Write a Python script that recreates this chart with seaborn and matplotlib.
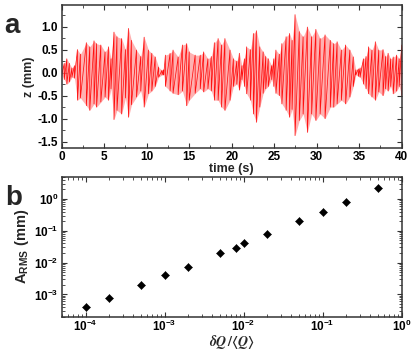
import numpy as np
import seaborn as sns
import matplotlib
import matplotlib.pyplot as plt
from matplotlib.ticker import MultipleLocator, LogLocator, NullFormatter

# panel a: peak envelope of z(t)
t_s = [0.0, 0.3, 0.6, 0.9, 1.2, 1.5, 1.85, 2.2, 2.9, 3.3, 3.8, 4.1, 4.6, 5.1,
       5.5, 5.8, 6.15, 6.5, 7.05, 7.5, 7.85, 8.2, 8.8, 9.3, 9.7, 10.2, 10.6,
       11.0, 11.4, 11.8, 12.0, 12.2, 12.75, 13.1, 13.7, 14.2, 14.7, 15.0,
       15.7, 16.3, 16.7, 17.2, 17.6, 17.96, 18.4, 18.8, 19.2, 19.8, 20.2,
       20.6, 20.9, 21.2, 21.5, 21.76, 22.2, 22.55, 22.9, 23.3, 23.7, 24.0,
       24.3, 24.7, 24.95, 25.2, 25.6, 25.9, 26.4, 26.8, 27.1, 27.45, 27.95,
       28.4, 28.9, 29.4, 29.9, 30.4, 30.98, 31.6, 32.0, 32.4, 32.9, 33.4,
       33.9, 34.3, 34.6, 34.9, 35.1, 35.5, 35.8, 36.1, 36.5, 36.9, 37.3,
       37.8, 38.1, 38.4, 38.7, 39.0, 39.4, 39.7, 40.0]
z_up = [0.05, 0.2, 0.3, 0.2, 0.1, 0.15, 0.5, 0.4, 0.65, 0.56, 0.69, 0.63, 0.6,
        0.45, 0.56, 0.3, 0.88, 0.78, 0.74, 0.5, 0.96, 0.7, 0.49, 0.35, 0.77,
        0.49, 0.42, 0.34, 0.12, 0.05, 0.06, 0.38, 0.42, 0.49, 0.34, 0.6, 0.63,
        0.45, 0.38, 0.38, 0.45, 0.3, 0.35, 0.65, 0.74, 0.6, 0.74, 0.49, 0.3,
        0.25, 0.42, 0.15, 0.3, 0.56, 0.5, 0.85, 0.91, 0.56, 0.45, 0.35, 0.3,
        0.15, 0.3, 0.49, 0.4, 0.63, 0.78, 0.85, 0.7, 1.26, 0.89, 0.78, 0.99,
        0.78, 0.94, 0.74, 0.82, 0.7, 0.63, 0.67, 0.49, 0.6, 0.49, 0.34, 0.06,
        0.08, 0.1, 0.3, 0.35, 0.56, 0.49, 0.67, 0.49, 0.5, 0.35, 0.42, 0.3,
        0.34, 0.38, 0.3, 0.6]
z_low = [-0.05, -0.15, -0.25, -0.2, -0.1, -0.12, -0.6, -0.55, -0.72, -0.82,
         -0.68, -0.75, -0.64, -0.53, -0.6, -0.35, -1.02, -0.82, -0.9, -0.55,
         -0.97, -0.7, -0.53, -0.4, -0.75, -0.46, -0.4, -0.3, -0.1, -0.05,
         -0.05, -0.3, -0.4, -0.45, -0.48, -0.4, -0.72, -0.6, -0.45, -0.35,
         -0.42, -0.35, -0.4, -0.6, -0.6, -0.75, -0.82, -0.6, -0.3, -0.25,
         -0.38, -0.15, -0.3, -0.46, -0.6, -0.9, -1.08, -0.75, -0.45, -0.35,
         -0.3, -0.15, -0.3, -0.45, -0.5, -0.68, -0.82, -0.97, -0.8, -1.37,
         -1.04, -0.9, -1.3, -0.9, -1.04, -0.9, -1.0, -0.75, -0.75, -0.68,
         -0.6, -0.68, -0.53, -0.3, -0.05, -0.08, -0.1, -0.25, -0.35, -0.46,
         -0.53, -0.6, -0.42, -0.5, -0.35, -0.4, -0.3, -0.46, -0.4, -0.3, -0.5]

# panel b
dq = [1e-4, 2e-4, 5e-4, 1e-3, 2e-3, 5e-3, 8e-3, 1e-2, 2e-2, 5e-2, 1e-1, 2e-1,
      5e-1]
a_rms = [4.1e-4, 7.9e-4, 2.0e-3, 4.0e-3, 7.5e-3, 0.0197, 0.0295, 0.040, 0.080,
         0.204, 0.40, 0.79, 2.18]

sns.set_theme(style='ticks')
plt.rcParams['font.family'] = ['Liberation Sans', 'DejaVu Sans']
plt.rcParams['font.weight'] = 'bold'
plt.rcParams['axes.labelweight'] = 'bold'
plt.rcParams['mathtext.fontset'] = 'stix'
plt.rcParams['axes.unicode_minus'] = False
plt.rcParams['xtick.direction'] = 'in'
plt.rcParams['ytick.direction'] = 'in'
plt.rcParams['xtick.top'] = True
plt.rcParams['ytick.right'] = True

fig = plt.figure(figsize=(4.15, 3.53), dpi=100)
ax1 = fig.add_axes([0.1487, 0.5807, 0.8193, 0.4051])
ax2 = fig.add_axes([0.1487, 0.1030, 0.8193, 0.3964])

# trace a
ax1.fill_between(t_s, z_low, z_up, color='#ff9090', alpha=0.7, lw=0)
zig_t = np.repeat(t_s, 2)
zig_z = np.column_stack([z_up, z_low]).ravel()
sns.lineplot(x=zig_t, y=zig_z, sort=False, estimator=None, color='#ff1010',
             lw=0.55, ax=ax1)
ax1.set_xlim(0, 40)
ax1.set_ylim(-1.64, 1.47)
ax1.xaxis.set_major_locator(MultipleLocator(5))
ax1.xaxis.set_minor_locator(MultipleLocator(2.5))
ax1.yaxis.set_minor_locator(MultipleLocator(0.25))
ax1.set_yticks([-1.5, -1.0, -0.5, 0.0, 0.5, 1.0])
ax1.yaxis.set_major_formatter(matplotlib.ticker.FormatStrFormatter('%.1f'))
ax1.set_xlabel('time (s)', fontsize=9, labelpad=0)
ax1.set_ylabel('z (mm)', fontsize=9, labelpad=2)

# scaling b
sns.scatterplot(x=dq, y=a_rms, marker='D', color='black', s=17,
                edgecolor='black', ax=ax2)
ax2.set_xscale('log')
ax2.set_yscale('log')
ax2.set_xlim(5e-5, 1)
ax2.set_ylim(2e-4, 5)
ax2.xaxis.set_major_locator(LogLocator(base=10, numticks=10))
ax2.xaxis.set_minor_locator(LogLocator(base=10, subs=np.arange(2, 10),
                                       numticks=20))
ax2.yaxis.set_major_locator(LogLocator(base=10, numticks=10))
ax2.yaxis.set_minor_locator(LogLocator(base=10, subs=np.arange(2, 10),
                                       numticks=20))
ax2.xaxis.set_minor_formatter(NullFormatter())
ax2.yaxis.set_minor_formatter(NullFormatter())
ax2.set_xlabel(r'$\delta Q\,/\langle Q\rangle$', fontsize=10, labelpad=-0.5)
ax2.set_ylabel(r'A$_\mathdefault{RMS}$ (mm)', fontsize=10.5, labelpad=2)

for ax in (ax1, ax2):
    for sp in ax.spines.values():
        sp.set_visible(True)
        sp.set_linewidth(1.1)
        sp.set_color('#333333')
    ax.tick_params(which='major', length=3.5, width=0.8, labelsize=8.5,
                   pad=2.5, colors='#333333', labelcolor='black')
    ax.tick_params(which='minor', length=2, width=0.6, colors='#333333')
ax2.tick_params(axis='x', which='major', pad=1.5)

fig.text(0.01, 0.9065, 'a', fontsize=20, fontweight='bold', va='baseline')
fig.text(0.012, 0.419, 'b', fontsize=20, fontweight='bold', va='baseline')

fig.savefig('out.png', dpi=100)
